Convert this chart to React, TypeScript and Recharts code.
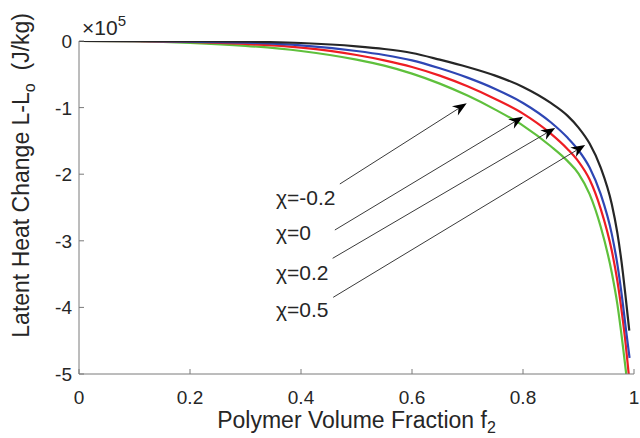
import React from 'react';
import {
  LineChart,
  Line,
  XAxis,
  YAxis,
  ReferenceLine,
  ReferenceDot
} from 'recharts';

// polymer volume fraction f2 and latent heat change (x 1e5 J/kg)
const fBlack = [0, 0.1, 0.2, 0.3, 0.4, 0.5, 0.55, 0.6, 0.65, 0.7, 0.75, 0.8, 0.85, 0.88, 0.9, 0.92, 0.94, 0.96, 0.97, 0.98, 0.985, 0.9915];
const lBlack = [0, 0, -0.003, -0.01, -0.03, -0.08, -0.12, -0.18, -0.28, -0.39, -0.52, -0.69, -0.93, -1.12, -1.3, -1.54, -1.9, -2.45, -2.88, -3.48, -3.85, -4.35];

const fBlue = [0, 0.1, 0.2, 0.3, 0.4, 0.5, 0.55, 0.6, 0.65, 0.7, 0.75, 0.8, 0.85, 0.88, 0.9, 0.92, 0.94, 0.96, 0.97, 0.98, 0.985, 0.992];
const lBlue = [0, -0.002, -0.008, -0.025, -0.065, -0.15, -0.21, -0.29, -0.41, -0.55, -0.72, -0.93, -1.22, -1.45, -1.64, -1.9, -2.3, -2.9, -3.35, -3.95, -4.3, -4.76];

const fRed = [0, 0.1, 0.2, 0.3, 0.4, 0.5, 0.55, 0.6, 0.65, 0.7, 0.75, 0.8, 0.85, 0.88, 0.9, 0.92, 0.94, 0.96, 0.97, 0.98, 0.985, 0.9905];
const lRed = [0, -0.003, -0.015, -0.045, -0.1, -0.21, -0.29, -0.39, -0.52, -0.68, -0.87, -1.09, -1.39, -1.62, -1.81, -2.08, -2.52, -3.15, -3.6, -4.2, -4.55, -5];

const fGreen = [0, 0.1, 0.2, 0.3, 0.4, 0.5, 0.55, 0.6, 0.65, 0.7, 0.75, 0.8, 0.85, 0.88, 0.9, 0.92, 0.94, 0.96, 0.97, 0.98, 0.986];
const lGreen = [0, -0.006, -0.028, -0.072, -0.15, -0.28, -0.37, -0.49, -0.64, -0.82, -1.03, -1.27, -1.58, -1.8, -1.99, -2.3, -2.79, -3.48, -3.95, -4.58, -5];

const xTicks = [0, 0.2, 0.4, 0.6, 0.8, 1];
const yTicks = [-5, -4, -3, -2, -1, 0];

// annotations: label text, label anchor, arrow start, arrow tip (data units)
const noteText = ['\u03c7=-0.2', '\u03c7=0', '\u03c7=0.2', '\u03c7=0.5'];
const noteLabelF = [0.355, 0.355, 0.355, 0.355];
const noteLabelL = [-2.46, -2.99, -3.59, -4.14];
const arrowFromF = [0.47, 0.461, 0.457, 0.458];
const arrowFromL = [-2.147, -2.838, -3.263, -3.849];
const arrowToF = [0.6986, 0.8, 0.858, 0.912];
const arrowToL = [-0.935, -1.137, -1.306, -1.562];

const toPoints = (fs: number[], ls: number[]) => fs.map((f, i) => ({ f, L: ls[i] }));

const FONT = '"Liberation Sans", Arial, Helvetica, sans-serif';
const AXIS = '#7a7a7a';
const TEXT = '#262626';

const BottomTick = (p: any) => (
  <g>
    <line x1={p.x} x2={p.x} y1={p.y} y2={p.y - 5} stroke={AXIS} />
    <text x={p.x} y={p.y + 30} textAnchor="middle" fontSize={19} fontFamily={FONT} fill={TEXT}>
      {String(p.payload.value)}
    </text>
  </g>
);

const TopTick = (p: any) => <line x1={p.x} x2={p.x} y1={p.y} y2={p.y + 5} stroke={AXIS} />;

const LeftTick = (p: any) => (
  <g>
    <line x1={p.x} x2={p.x + 5} y1={p.y} y2={p.y} stroke={AXIS} />
    <text x={p.x - 7} y={p.y + 7} textAnchor="end" fontSize={19} fontFamily={FONT} fill={TEXT}>
      {String(p.payload.value)}
    </text>
  </g>
);

const RightTick = (p: any) => <line x1={p.x} x2={p.x - 5} y1={p.y} y2={p.y} stroke={AXIS} />;

const Arrow = (p: any) => {
  const { x1, y1, x2, y2 } = p;
  const a = Math.atan2(y2 - y1, x2 - x1);
  const len = 14;
  const w = 5.5;
  const bx = x2 - len * Math.cos(a);
  const by = y2 - len * Math.sin(a);
  const nx = x2 - len * 0.7 * Math.cos(a);
  const ny = y2 - len * 0.7 * Math.sin(a);
  const px = -Math.sin(a) * w;
  const py = Math.cos(a) * w;
  return (
    <g>
      <line x1={x1} y1={y1} x2={nx} y2={ny} stroke="#3a3a3a" strokeWidth={1} />
      <path d={`M${x2},${y2} L${bx + px},${by + py} L${nx},${ny} L${bx - px},${by - py} Z`} fill="#000" />
    </g>
  );
};

const XTitle = (p: any) => {
  const vb = p.viewBox;
  return (
    <text x={vb.x + vb.width / 2} y={vb.y + 54} textAnchor="middle" fontSize={23} fontFamily={FONT} fill={TEXT}>
      Polymer Volume Fraction f
      <tspan fontSize={16} dy={5}>2</tspan>
    </text>
  );
};

const YTitle = () => (
  <text
    x={0}
    y={0}
    transform="translate(29,13) rotate(-90)"
    textAnchor="end"
    fontSize={23}
    fontFamily={FONT}
    fill={TEXT}
  >
    Latent Heat Change L-L
    <tspan fontSize={16} dy={6}>o</tspan>
    <tspan dy={-6}>{'\u00a0\u00a0(J/kg)'}</tspan>
  </text>
);

export default function App() {
  return (
    <div style={{ position: 'absolute', left: 0, top: 0, background: '#fff' }}>
      <LineChart width={640} height={438} margin={{ top: 41, right: 6, bottom: 0, left: 0 }}>
        <XAxis
          xAxisId="b"
          type="number"
          dataKey="f"
          domain={[0, 1]}
          ticks={xTicks}
          height={64}
          tickSize={0}
          tickMargin={0}
          tickLine={false}
          axisLine={{ stroke: AXIS }}
          tick={<BottomTick />}
          label={<XTitle />}
          allowDataOverflow
        />
        <XAxis
          xAxisId="t"
          orientation="top"
          type="number"
          dataKey="f"
          domain={[0, 1]}
          ticks={xTicks}
          height={0}
          tickSize={0}
          tickMargin={0}
          tickLine={false}
          axisLine={{ stroke: AXIS }}
          tick={<TopTick />}
          allowDataOverflow
        />
        <YAxis
          yAxisId="l"
          type="number"
          domain={[-5, 0]}
          ticks={yTicks}
          width={79}
          tickSize={0}
          tickMargin={0}
          tickLine={false}
          axisLine={{ stroke: AXIS }}
          tick={<LeftTick />}
          label={<YTitle />}
          allowDataOverflow
        />
        <YAxis
          yAxisId="r"
          orientation="right"
          type="number"
          domain={[-5, 0]}
          ticks={yTicks}
          width={0}
          tickSize={0}
          tickMargin={0}
          tickLine={false}
          axisLine={{ stroke: AXIS }}
          tick={<RightTick />}
          allowDataOverflow
        />
        <Line xAxisId="b" yAxisId="l" data={toPoints(fGreen, lGreen)} dataKey="L" type="monotone" stroke="#5fc03c" strokeWidth={2.2} dot={false} isAnimationActive={false} />
        <Line xAxisId="b" yAxisId="l" data={toPoints(fRed, lRed)} dataKey="L" type="monotone" stroke="#ee1d23" strokeWidth={2.2} dot={false} isAnimationActive={false} />
        <Line xAxisId="b" yAxisId="l" data={toPoints(fBlue, lBlue)} dataKey="L" type="monotone" stroke="#2e46b4" strokeWidth={2.2} dot={false} isAnimationActive={false} />
        <Line xAxisId="b" yAxisId="l" data={toPoints(fBlack, lBlack)} dataKey="L" type="monotone" stroke="#262626" strokeWidth={2.2} dot={false} isAnimationActive={false} />
        {noteText.map((t, i) => (
          <ReferenceLine
            key={'a' + i}
            xAxisId="b"
            yAxisId="l"
            segment={[{ x: arrowFromF[i], y: arrowFromL[i] }, { x: arrowToF[i], y: arrowToL[i] }]}
            shape={<Arrow />}
            ifOverflow="visible"
          />
        ))}
        {noteText.map((t, i) => (
          <ReferenceDot
            key={'n' + i}
            xAxisId="b"
            yAxisId="l"
            x={noteLabelF[i]}
            y={noteLabelL[i]}
            ifOverflow="visible"
            shape={(p: any) => (
              <text x={p.cx} y={p.cy} fontSize={21} fontFamily={FONT} fill={TEXT}>
                {t}
              </text>
            )}
          />
        ))}
        <ReferenceDot
          xAxisId="b"
          yAxisId="l"
          x={0}
          y={0}
          ifOverflow="visible"
          shape={(p: any) => (
            <text x={p.cx + 3} y={p.cy - 6} fontSize={21} fontFamily={FONT} fill={TEXT}>
              {'\u00d710'}
              <tspan fontSize={15} dy={-9}>5</tspan>
            </text>
          )}
        />
      </LineChart>
    </div>
  );
}
